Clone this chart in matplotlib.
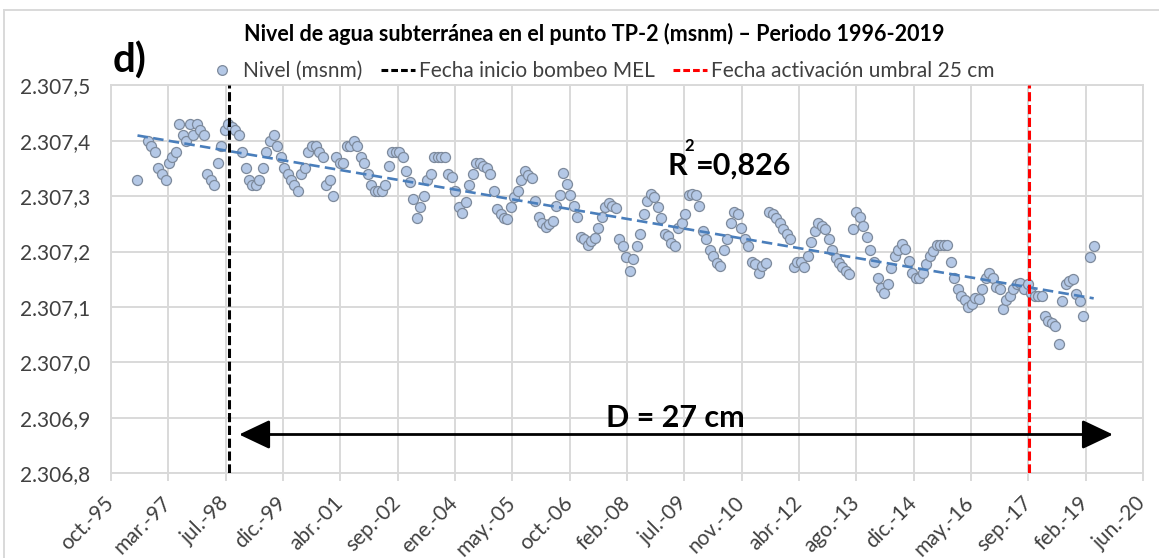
import numpy as np
import pandas as pd
import matplotlib
matplotlib.use('Agg')
import matplotlib.pyplot as plt
import matplotlib.dates as mdates
from matplotlib.lines import Line2D

plt.rcParams['font.family'] = ['Lato', 'DejaVu Sans']

nan = np.nan

# Monthly water level readings (msnm); the series starts in June 1996
nivel_1996 = [2307.33, nan, nan, 2307.40, 2307.39, 2307.38, 2307.35]
nivel_1997 = [2307.34, 2307.33, 2307.36, 2307.37, 2307.38, 2307.43, 2307.41, 2307.40, 2307.43, 2307.41, 2307.43, 2307.42]
nivel_1998 = [2307.41, 2307.34, 2307.33, 2307.32, 2307.36, 2307.39, 2307.42, 2307.43, 2307.425, 2307.42, 2307.41, 2307.38]
nivel_1999 = [2307.35, 2307.33, 2307.32, 2307.32, 2307.33, 2307.35, 2307.38, 2307.40, 2307.41, 2307.39, 2307.37, 2307.35]
nivel_2000 = [2307.34, 2307.33, 2307.32, 2307.31, 2307.34, 2307.35, 2307.38, 2307.39, 2307.39, 2307.38, 2307.37, 2307.32]
nivel_2001 = [2307.33, 2307.30, 2307.37, 2307.36, 2307.36, 2307.39, 2307.39, 2307.40, 2307.39, 2307.37, 2307.36, 2307.34]
nivel_2002 = [2307.32, 2307.31, 2307.31, 2307.31, 2307.32, 2307.355, 2307.38, 2307.38, 2307.38, 2307.37, 2307.345, 2307.325]
nivel_2003 = [2307.295, 2307.26, 2307.28, 2307.30, 2307.33, 2307.34, 2307.37, 2307.37, 2307.37, 2307.37, 2307.34, 2307.335]
nivel_2004 = [2307.31, 2307.28, 2307.27, 2307.29, 2307.32, 2307.34, 2307.36, 2307.36, 2307.355, 2307.35, 2307.34, 2307.31]
nivel_2005 = [2307.277, 2307.268, 2307.261, 2307.258, 2307.28, 2307.298, 2307.31, 2307.329, 2307.346, 2307.338, 2307.332, 2307.292]
nivel_2006 = [2307.262, 2307.252, 2307.244, 2307.249, 2307.255, 2307.282, 2307.302, 2307.341, 2307.322, 2307.302, 2307.282, 2307.262]
nivel_2007 = [2307.227, 2307.222, 2307.212, 2307.219, 2307.225, 2307.243, 2307.262, 2307.281, 2307.287, 2307.282, 2307.279, 2307.222]
nivel_2008 = [2307.21, 2307.19, 2307.165, 2307.187, 2307.21, 2307.232, 2307.267, 2307.292, 2307.304, 2307.299, 2307.281, 2307.261]
nivel_2009 = [2307.232, 2307.228, 2307.216, 2307.21, 2307.242, 2307.252, 2307.267, 2307.302, 2307.304, 2307.302, 2307.282, 2307.237]
nivel_2010 = [2307.222, 2307.202, 2307.192, 2307.18, 2307.174, 2307.202, 2307.222, 2307.252, 2307.272, 2307.267, 2307.242, 2307.222]
nivel_2011 = [2307.21, 2307.181, 2307.177, 2307.162, 2307.174, 2307.179, 2307.272, 2307.267, 2307.261, 2307.252, 2307.24, 2307.231]
nivel_2012 = [2307.223, 2307.172, 2307.182, 2307.182, 2307.172, 2307.192, 2307.217, 2307.237, 2307.252, 2307.247, 2307.24, 2307.222]
nivel_2013 = [2307.202, 2307.189, 2307.179, 2307.172, 2307.165, 2307.159, 2307.24, 2307.272, 2307.262, 2307.247, 2307.227, 2307.202]
nivel_2014 = [2307.182, 2307.152, 2307.135, 2307.126, 2307.142, 2307.171, 2307.192, 2307.203, 2307.213, 2307.204, 2307.183, 2307.162]
nivel_2015 = [2307.153, 2307.153, 2307.162, 2307.177, 2307.192, 2307.201, 2307.211, 2307.211, 2307.211, 2307.211, 2307.181, 2307.153]
nivel_2016 = [2307.132, 2307.12, 2307.112, 2307.10, 2307.105, 2307.117, 2307.115, 2307.132, 2307.153, 2307.162, 2307.153, 2307.137]
nivel_2017 = [2307.132, 2307.097, 2307.112, 2307.12, 2307.132, 2307.141, 2307.144, 2307.132, 2307.141, 2307.126, 2307.12, 2307.12]
nivel_2018 = [2307.12, 2307.084, 2307.075, 2307.072, 2307.065, 2307.033, 2307.111, 2307.141, 2307.147, 2307.151, 2307.123, 2307.111]
nivel_2019 = [2307.083, nan, 2307.19, 2307.21]

inicio_serie = '1996-06-01'
inicio_bombeo = '1998-08-25'
activacion_umbral = '2017-10-01'

# Date axis: first tick at 28-Oct-1995, one tick every 500 days
eje_inicio = '1995-10-28'
paso_dias = 500
x_labels = ['oct.-95', 'mar.-97', 'jul.-98', 'dic.-99', 'abr.-01', 'sep.-02', 'ene.-04',
            'may.-05', 'oct.-06', 'feb.-08', 'jul.-09', 'nov.-10', 'abr.-12', 'ago.-13',
            'dic.-14', 'may.-16', 'sep.-17', 'feb.-19', 'jun.-20']
y_ticks = [2306.8, 2306.9, 2307.0, 2307.1, 2307.2, 2307.3, 2307.4, 2307.5]
y_labels = ['2.306,8', '2.306,9', '2.307,0', '2.307,1', '2.307,2', '2.307,3', '2.307,4', '2.307,5']

# D = 27 cm arrow
d_inicio = '1998-11-18'
d_fin = '2019-09-30'
d_nivel = 2306.87

nivel = np.array(nivel_1996 + nivel_1997 + nivel_1998 + nivel_1999 + nivel_2000 + nivel_2001 +
                 nivel_2002 + nivel_2003 + nivel_2004 + nivel_2005 + nivel_2006 + nivel_2007 +
                 nivel_2008 + nivel_2009 + nivel_2010 + nivel_2011 + nivel_2012 + nivel_2013 +
                 nivel_2014 + nivel_2015 + nivel_2016 + nivel_2017 + nivel_2018 + nivel_2019)
fechas = pd.date_range(inicio_serie, periods=len(nivel), freq='MS') + pd.Timedelta(days=14)
ok = ~np.isnan(nivel)
fechas = fechas[ok]
nivel = nivel[ok]

tick_fechas = pd.date_range(eje_inicio, periods=len(x_labels), freq=f'{paso_dias}D')

W, H = 1159, 558
fig = plt.figure(figsize=(W / 100, H / 100), dpi=100)


def fx(px):
    return px / W


def fy(py):
    return 1 - py / H


ax = fig.add_axes([fx(111), fy(473.3), fx(1143) - fx(111), fy(85.3) - fy(473.3)])

gris = '#d9d9d9'
ax.set_axisbelow(True)
ax.grid(True, color=gris, lw=1.4)
for s in ax.spines.values():
    s.set_color(gris)
    s.set_linewidth(1.4)

# linear trend
xnum = mdates.date2num(fechas)
coef = np.polyfit(xnum, nivel, 1)
xt = np.array([xnum[0], xnum[-1]])
tl, = ax.plot(mdates.num2date(xt), np.polyval(coef, xt), color='#4a7ebb', lw=1.9, zorder=3)
tl.set_dashes((4, 2))

ax.scatter(fechas, nivel, s=52, facecolor='#b4c8e6', edgecolor='#7d8a9c', linewidths=0.9, zorder=2)

vb = ax.axvline(pd.Timestamp(inicio_bombeo), color='black', lw=2.2, zorder=4)
vb.set_dashes((3, 1.2))
vr = ax.axvline(pd.Timestamp(activacion_umbral), color='#ff0000', lw=2.2, zorder=4)
vr.set_dashes((3, 1.2))

ax.annotate('', xy=(pd.Timestamp(d_fin), d_nivel), xytext=(pd.Timestamp(d_inicio), d_nivel),
            arrowprops=dict(arrowstyle='<|-|>,head_length=0.95,head_width=0.45',
                            color='black', lw=2, mutation_scale=20, shrinkA=0, shrinkB=0),
            zorder=5)
ax.text(pd.Timestamp('2009-04-17'), 2306.884, 'D = 27 cm', ha='center', va='baseline',
        fontsize=22, fontweight='bold', color='black')

# R² label
ax.text(fx(667), fy(175), 'R', transform=fig.transFigure, ha='left', va='baseline',
        fontsize=22, fontweight='bold', color='black')
ax.text(fx(684), fy(151), '2', transform=fig.transFigure, ha='left', va='baseline',
        fontsize=12, fontweight='bold', color='black')
ax.text(fx(696), fy(175), '=0,826', transform=fig.transFigure, ha='left', va='baseline',
        fontsize=22, fontweight='bold', color='black')

ax.set_xlim(tick_fechas[0], tick_fechas[-1])
ax.set_ylim(y_ticks[0], y_ticks[-1])
ax.set_yticks(y_ticks)
ax.set_yticklabels(y_labels, fontsize=15, color='#404040')
ax.set_xticks(tick_fechas)
ax.set_xticklabels(x_labels, fontsize=15, color='#404040', rotation=45, ha='right',
                   va='center', rotation_mode='anchor')
ax.tick_params(axis='y', length=0, pad=15)
ax.tick_params(axis='x', length=6, width=1.4, color=gris, pad=13)

fig.text(fx(594), fy(34), 'Nivel de agua subterránea en el punto TP-2 (msnm) – Periodo 1996-2019',
         ha='center', va='center', fontsize=15.5, fontweight='bold', color='black')
fig.text(fx(113), fy(73), 'd)', ha='left', va='baseline', fontsize=29, fontweight='bold',
         color='black')

handles = [
    Line2D([], [], ls='none', marker='o', markersize=7, markerfacecolor='#b4c8e6',
           markeredgecolor='#7d8a9c', markeredgewidth=0.9),
    Line2D([], [], color='black', lw=2.2, dashes=(2.2, 1.0)),
    Line2D([], [], color='#ff0000', lw=2.2, dashes=(2.2, 1.0)),
]
labels = ['Nivel (msnm)', 'Fecha inicio bombeo MEL', 'Fecha activación umbral 25 cm']
fig.legend(handles, labels, loc='center', bbox_to_anchor=(fx(600), fy(71)), ncol=3,
           frameon=False, fontsize=15, handlelength=1.6, handletextpad=0.2,
           columnspacing=0.9, labelcolor='#404040')

# outer chart border
fig.add_artist(Line2D([fx(4), fx(4)], [0, fy(10)], color=gris, lw=1.4))
fig.add_artist(Line2D([fx(4), 1], [fy(10), fy(10)], color=gris, lw=1.4))

fig.savefig('out.png', dpi=100)
